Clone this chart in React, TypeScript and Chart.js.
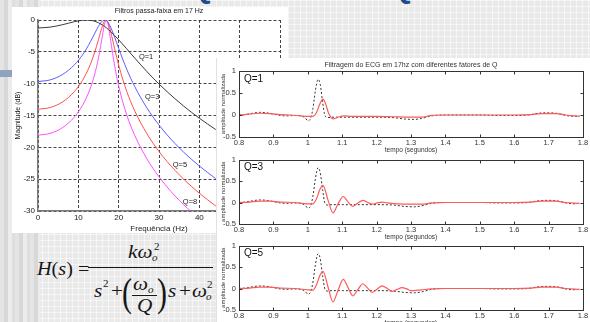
import React, { useEffect, useRef } from "react";
import { Chart, registerables } from "chart.js";

Chart.register(...registerables);

const SANS = '"Liberation Sans", Arial, Helvetica, sans-serif';
const SERIF = '"Liberation Serif", "Times New Roman", serif';

// ---------------- Left chart: "Filtros passa-faixa em 17 Hz" ----------------
const freqHz = [0, 3, 6, 9, 11, 12, 13, 14, 15, 16, 16.5, 17, 17.5, 18, 19, 20, 22, 24, 27, 30, 34, 38, 42, 46, 50, 55, 60];
const magQ1 = [-1.25, -1.12, -0.75, -0.27, -0.04, 0, -0.04, -0.18, -0.43, -0.79, -1.01, -1.25, -1.52, -1.8, -2.43, -3.1, -4.53, -5.99, -8.1, -10.05, -12.39, -14.47, -16.32, -18.0, -19.52, -21.25, -22.82];
const magQ3 = [-9.66, -9.41, -8.59, -7.06, -5.51, -4.54, -3.42, -2.19, -0.99, -0.14, 0, -0.12, -0.5, -1.1, -2.69, -4.45, -7.74, -10.48, -13.81, -16.49, -19.42, -21.85, -23.93, -25.77, -27.41, -29.25, -30.89];
const magQ5 = [-14.02, -13.75, -12.9, -11.26, -9.52, -8.36, -6.94, -5.19, -3.06, -0.88, -0.16, -0.04, -0.65, -1.77, -4.52, -7.1, -11.2, -14.3, -17.86, -20.65, -23.64, -26.11, -28.22, -30.07, -31.72, -33.57, -35.22];
const magQ8 = [-18.08, -17.81, -16.93, -15.26, -13.45, -12.22, -10.67, -8.65, -5.95, -2.37, -0.65, -0.02, -1.12, -3.16, -7.19, -10.36, -14.9, -18.15, -21.8, -24.63, -27.65, -30.13, -32.25];
const freqTicks = [0, 10, 20, 30, 40, 50, 60];
const magTicks = [0, -5, -10, -15, -20, -25, -30];
const qCurveLabels = ["Q=1", "Q=3", "Q=5", "Q=8"];
const qLabelHz = [26.8, 28.3, 35.2, 37.7];
const qLabelDb = [-5.8, -12.1, -22.8, -28.6];

// ---------------- ECG panels ----------------
const ecgTime = [0.8, 0.82, 0.84, 0.86, 0.88, 0.9, 0.92, 0.94, 0.96, 0.98, 0.993, 1.0, 1.008, 1.015, 1.022, 1.03, 1.036, 1.043, 1.05, 1.058, 1.07, 1.1, 1.15, 1.2, 1.25, 1.28, 1.31, 1.33, 1.36, 1.4, 1.45, 1.5, 1.55, 1.6, 1.64, 1.67, 1.7, 1.73, 1.75, 1.77, 1.79];
const ecgRaw = [0.0, 0.01, 0.04, 0.06, 0.05, 0.02, -0.01, -0.02, -0.01, -0.02, -0.07, -0.13, -0.08, 0.15, 0.55, 0.81, 0.7, 0.3, -0.02, -0.06, -0.05, -0.05, -0.05, -0.05, -0.06, -0.09, -0.1, -0.08, -0.02, 0.0, 0.0, 0.0, -0.01, -0.01, 0.0, 0.04, 0.05, 0.03, -0.01, -0.03, -0.02];

const q1Time = [0.8, 0.83, 0.86, 0.89, 0.92, 0.95, 0.98, 1.0, 1.015, 1.025, 1.035, 1.044, 1.052, 1.06, 1.073, 1.088, 1.103, 1.13, 1.2, 1.25, 1.3, 1.33, 1.36, 1.4, 1.5, 1.6, 1.65, 1.68, 1.72, 1.75, 1.79];
const q1Filt = [0.0, 0.02, 0.04, 0.03, 0.01, 0.0, -0.02, -0.03, -0.03, 0.05, 0.25, 0.36, 0.25, 0.05, -0.09, -0.05, -0.02, -0.03, -0.03, -0.04, -0.05, -0.05, -0.01, 0.0, 0.0, 0.0, 0.01, 0.03, 0.03, 0.0, -0.03];

const q3Time = [0.8, 0.83, 0.86, 0.89, 0.92, 0.96, 1.0, 1.015, 1.025, 1.035, 1.044, 1.059, 1.073, 1.088, 1.103, 1.117, 1.131, 1.146, 1.16, 1.174, 1.187, 1.202, 1.216, 1.231, 1.26, 1.3, 1.33, 1.36, 1.4, 1.5, 1.6, 1.65, 1.68, 1.72, 1.75, 1.79];
const q3Filt = [0.0, 0.01, 0.03, 0.03, 0.01, 0.0, -0.03, -0.03, 0.08, 0.3, 0.4, 0.05, -0.24, -0.03, 0.14, 0.01, -0.09, -0.01, 0.05, 0.0, -0.04, -0.01, 0.01, -0.01, -0.03, -0.04, -0.04, -0.01, 0.0, 0.0, 0.0, 0.01, 0.03, 0.03, 0.0, -0.02];

const q5Time = [0.8, 0.83, 0.86, 0.89, 0.92, 0.96, 1.0, 1.015, 1.025, 1.035, 1.044, 1.059, 1.073, 1.088, 1.103, 1.117, 1.131, 1.146, 1.16, 1.174, 1.187, 1.202, 1.216, 1.231, 1.245, 1.26, 1.274, 1.288, 1.3, 1.33, 1.36, 1.4, 1.5, 1.6, 1.65, 1.68, 1.72, 1.75, 1.79];
const q5Filt = [0.0, 0.01, 0.03, 0.03, 0.01, 0.0, -0.03, -0.04, 0.08, 0.3, 0.4, 0.03, -0.31, -0.04, 0.21, 0.02, -0.17, -0.02, 0.11, 0.01, -0.09, -0.01, 0.06, 0.0, -0.07, -0.02, 0.02, -0.01, -0.05, -0.03, -0.01, 0.0, 0.0, 0.0, 0.01, 0.03, 0.03, 0.0, -0.02];

const ecgTimeTicks = [0.8, 0.9, 1.0, 1.1, 1.2, 1.3, 1.4, 1.5, 1.6, 1.7, 1.8];
const ecgAmpTicks = [-0.5, 0, 0.5, 1];
const ecgPanelLabels = ["Q=1", "Q=3", "Q=5"];

const zip = (xs: number[], ys: number[]) => {
  const n = Math.min(xs.length, ys.length);
  const out: { x: number; y: number }[] = [];
  for (let i = 0; i < n; i++) out.push({ x: xs[i], y: ys[i] });
  return out;
};

const fixedTicks = (vals: number[]) => (scale: any) => {
  scale.ticks = vals.map((v) => ({ value: v }));
};

// ---------- left chart config ----------
function makeLeftConfig(): any {
  const line = (vals: number[], color: string) => ({
    data: zip(freqHz, vals),
    borderColor: color,
    borderWidth: 1,
    pointRadius: 0,
    fill: false,
    cubicInterpolationMode: "monotone",
  });
  const textPlugin = {
    id: "leftText",
    afterDraw(chart: any) {
      const { ctx, chartArea: a, scales } = chart;
      ctx.save();
      ctx.fillStyle = "#1a1a1a";
      ctx.textAlign = "center";
      ctx.textBaseline = "middle";
      ctx.font = `7px ${SANS}`;
      ctx.fillText("Filtros passa-faixa em 17 Hz", (a.left + a.right) / 2, a.top - 9);
      ctx.font = `8px ${SANS}`;
      ctx.fillText("Frequência (Hz)", (a.left + a.right) / 2, a.bottom + 18);
      ctx.font = `7.5px ${SANS}`;
      qCurveLabels.forEach((t, i) => {
        ctx.fillText(t, scales.x.getPixelForValue(qLabelHz[i]), scales.y.getPixelForValue(qLabelDb[i]));
      });
      ctx.translate(6, (a.top + a.bottom) / 2);
      ctx.rotate(-Math.PI / 2);
      ctx.font = `7px ${SANS}`;
      ctx.fillText("Magnitude (dB)", 0, 0);
      ctx.restore();
    },
  };
  const tickFont = { family: SANS, size: 8 };
  return {
    type: "line",
    data: {
      datasets: [
        line(magQ1, "#3a3a3a"),
        line(magQ3, "#5c5cff"),
        line(magQ5, "#ff4f4f"),
        line(magQ8, "#ff4fff"),
      ],
    },
    options: {
      responsive: false,
      animation: false,
      events: [],
      layout: { padding: { top: 13, right: 8, left: 0, bottom: 0 } },
      plugins: { legend: { display: false }, tooltip: { enabled: false }, title: { display: false } },
      scales: {
        x: {
          type: "linear",
          min: 0,
          max: 60,
          afterBuildTicks: fixedTicks(freqTicks),
          ticks: { font: tickFont, color: "#222", padding: 2, maxRotation: 0, autoSkip: false, callback: (v: any) => String(v) },
          grid: { color: "#444", lineWidth: 1, drawTicks: false },
          border: { display: true, color: "#7a7a7a", width: 1.5, dash: [3, 2] },
          afterFit: (s: any) => {
            s.height = 22;
          },
        },
        y: {
          type: "linear",
          min: -30,
          max: 0,
          afterBuildTicks: fixedTicks(magTicks),
          ticks: { font: tickFont, color: "#222", padding: 3, autoSkip: false, callback: (v: any) => String(v) },
          grid: { color: "#444", lineWidth: 1, drawTicks: false },
          border: { display: true, color: "#7a7a7a", width: 1.5, dash: [3, 2] },
          afterFit: (s: any) => {
            s.width = 26;
          },
        },
      },
    },
    plugins: [textPlugin],
  };
}

// ---------- ECG subplot config ----------
function makeEcgConfig(idx: number, padTop: number): any {
  const filtered = [zip(q1Time, q1Filt), zip(q3Time, q3Filt), zip(q5Time, q5Filt)][idx];
  const decor = {
    id: "ecgDecor",
    afterDraw(chart: any) {
      const { ctx, chartArea: a, scales } = chart;
      const xs = scales.x;
      const ys = scales.y;
      const L = Math.round(a.left) + 0.5;
      const R = Math.round(a.right) + 0.5;
      const T = Math.round(a.top) + 0.5;
      const B = Math.round(a.bottom) + 0.5;
      ctx.save();
      ctx.setLineDash([]);
      ctx.strokeStyle = "#333";
      ctx.lineWidth = 1;
      ctx.strokeRect(L, T, R - L, B - T);
      ctx.beginPath();
      xs.ticks.forEach((t: any) => {
        const p = Math.round(xs.getPixelForValue(t.value)) + 0.5;
        ctx.moveTo(p, B);
        ctx.lineTo(p, B - 3);
        ctx.moveTo(p, T);
        ctx.lineTo(p, T + 3);
      });
      ys.ticks.forEach((t: any) => {
        const p = Math.round(ys.getPixelForValue(t.value)) + 0.5;
        ctx.moveTo(L, p);
        ctx.lineTo(L + 3, p);
        ctx.moveTo(R, p);
        ctx.lineTo(R - 3, p);
      });
      ctx.stroke();
      ctx.fillStyle = "#111";
      ctx.textAlign = "left";
      ctx.textBaseline = "middle";
      ctx.font = `10px ${SANS}`;
      ctx.fillText(ecgPanelLabels[idx], a.left + 5, a.top + 8);
      ctx.fillStyle = "#333";
      ctx.textAlign = "center";
      ctx.font = `6.5px ${SANS}`;
      ctx.fillText("tempo (segundos)", (a.left + a.right) / 2, a.bottom + 13);
      if (idx === 0) {
        ctx.font = `7px ${SANS}`;
        ctx.fillText("Filtragem do ECG em 17hz com diferentes fatores de Q", (a.left + a.right) / 2, a.top - 6);
      }
      ctx.translate(7, (a.top + a.bottom) / 2);
      ctx.rotate(-Math.PI / 2);
      ctx.font = `6px ${SANS}`;
      ctx.fillText("amplitude normalizada", 0, 0);
      ctx.restore();
    },
  };
  const tickFont = { family: SANS, size: 7.5 };
  return {
    type: "line",
    data: {
      datasets: [
        {
          data: filtered,
          borderColor: "#ff5a5a",
          borderWidth: 1.2,
          pointRadius: 0,
          fill: false,
          cubicInterpolationMode: "monotone",
        },
        {
          data: zip(ecgTime, ecgRaw),
          borderColor: "#333",
          borderWidth: 1,
          borderDash: [2, 2],
          pointRadius: 0,
          fill: false,
          cubicInterpolationMode: "monotone",
        },
      ],
    },
    options: {
      responsive: false,
      animation: false,
      events: [],
      layout: { padding: { top: padTop, right: 7, left: 0, bottom: 0 } },
      plugins: { legend: { display: false }, tooltip: { enabled: false }, title: { display: false } },
      scales: {
        x: {
          type: "linear",
          min: 0.8,
          max: 1.8,
          afterBuildTicks: fixedTicks(ecgTimeTicks),
          ticks: {
            font: tickFont,
            color: "#333",
            padding: 1,
            maxRotation: 0,
            autoSkip: false,
            callback: (v: any) => String(Math.round(Number(v) * 10) / 10),
          },
          grid: { display: false, drawTicks: false },
          border: { display: false },
          afterFit: (s: any) => {
            s.height = 17;
          },
        },
        y: {
          type: "linear",
          min: -0.5,
          max: 1,
          afterBuildTicks: fixedTicks(ecgAmpTicks),
          ticks: {
            font: tickFont,
            color: "#333",
            padding: 3,
            autoSkip: false,
            callback: (v: any) => String(Math.round(Number(v) * 10) / 10),
          },
          grid: { display: false, drawTicks: false },
          border: { display: false },
          afterFit: (s: any) => {
            s.width = 23;
          },
        },
      },
    },
    plugins: [decor],
  };
}

function ChartCanvas({ width, height, left, top, make }: any) {
  const ref = useRef<HTMLCanvasElement>(null);
  useEffect(() => {
    const chart = new Chart(ref.current as HTMLCanvasElement, make());
    return () => chart.destroy();
  }, []);
  return (
    <canvas
      ref={ref}
      width={width}
      height={height}
      style={{ position: "absolute", left, top, width, height, display: "block" }}
    />
  );
}

function T({ x, base, size, italic, sx = 1.18, children }: any) {
  return (
    <span
      style={{
        position: "absolute",
        left: x,
        top: base - 0.84 * size,
        fontSize: size,
        lineHeight: `${size}px`,
        fontStyle: italic ? "italic" : "normal",
        whiteSpace: "nowrap",
        transform: `scaleX(${sx})`,
        transformOrigin: "left center",
      }}
    >
      {children}
    </span>
  );
}

function Formula() {
  return (
    <div style={{ position: "absolute", left: 0, top: 0, fontFamily: SERIF, color: "#161616" }}>
      <T x={37} base={275} size={18} sx={1.12}>
        <i>H</i>(<i>s</i>) =
      </T>
      {/* numerator */}
      <T x={128} base={258} size={18} italic>
        kω
      </T>
      <T x={152} base={261} size={11} italic sx={1}>
        o
      </T>
      <T x={154} base={250} size={11} sx={1}>
        2
      </T>
      <div style={{ position: "absolute", left: 88, top: 267, width: 125, height: 1.3, background: "#161616" }} />
      {/* denominator */}
      <T x={94} base={297} size={18} italic>
        s
      </T>
      <T x={103} base={287} size={11} sx={1}>
        2
      </T>
      <T x={111} base={297} size={18}>
        +
      </T>
      <T x={122} base={307} size={40} sx={0.75}>
        (
      </T>
      <T x={133} base={290} size={18} italic>
        ω
      </T>
      <T x={148} base={293} size={11} italic sx={1}>
        o
      </T>
      <div style={{ position: "absolute", left: 132, top: 294.5, width: 25, height: 1, background: "#161616" }} />
      <T x={137} base={312} size={18} italic>
        Q
      </T>
      <T x={157} base={307} size={40} sx={0.75}>
        )
      </T>
      <T x={168} base={297} size={18} italic>
        s
      </T>
      <T x={179} base={297} size={18}>
        +
      </T>
      <T x={192} base={297} size={18} italic>
        ω
      </T>
      <T x={206} base={300} size={11} italic sx={1}>
        o
      </T>
      <T x={207} base={288} size={11} sx={1}>
        2
      </T>
    </div>
  );
}

const ecgPlotTops = [71, 158, 244];
const ecgPlotHeight = 66;
const ECG_LEFT = 216;
const ECG_TOP = 58;

export default function App() {
  return (
    <div
      style={{
        position: "fixed",
        left: 0,
        top: 0,
        width: 590,
        height: 322,
        overflow: "hidden",
        backgroundColor: "#e9e9e9",
        backgroundImage:
          "repeating-linear-gradient(90deg, rgba(255,255,255,0.55) 0px, rgba(255,255,255,0.55) 1px, transparent 1px, transparent 6px), repeating-linear-gradient(180deg, rgba(255,255,255,0.55) 0px, rgba(255,255,255,0.55) 1px, transparent 1px, transparent 6px)",
      }}
    >
      <div
        style={{
          position: "absolute",
          left: 0,
          top: 0,
          width: 40,
          height: 322,
          backgroundImage:
            "repeating-linear-gradient(90deg, #e4e4e4 0px, #e4e4e4 4px, #d8d8d8 4px, #d8d8d8 8px, #ececec 8px, #ececec 12px, #dedede 12px, #dedede 15px)",
        }}
      />
      <div style={{ position: "absolute", left: 0, top: 70, width: 12, height: 7, background: "#8ea3be" }} />
      <span
        style={{
          position: "absolute",
          left: 190,
          top: -27,
          fontFamily: SANS,
          fontWeight: "bold",
          fontSize: 30,
          lineHeight: "30px",
          color: "#1f4c8a",
        }}
      >
        Q
      </span>
      <span
        style={{
          position: "absolute",
          left: 390,
          top: -27,
          fontFamily: SANS,
          fontWeight: "bold",
          fontSize: 30,
          lineHeight: "30px",
          color: "#1f4c8a",
        }}
      >
        Q
      </span>
      <div style={{ position: "absolute", left: 12, top: 7, width: 276, height: 226, background: "#fff" }}>
        <ChartCanvas width={276} height={226} left={0} top={0} make={makeLeftConfig} />
      </div>
      <Formula />
      <div
        style={{
          position: "absolute",
          left: ECG_LEFT,
          top: ECG_TOP,
          width: 590 - ECG_LEFT,
          height: 322 - ECG_TOP,
          background: "#fff",
          overflow: "hidden",
          borderLeft: "1px solid #e2e2e2",
          boxSizing: "border-box",
        }}
      >
        {ecgPlotTops.map((pt, i) => {
          const padTop = i === 0 ? 13 : 6;
          return (
            <ChartCanvas
              key={i}
              width={590 - ECG_LEFT}
              height={padTop + ecgPlotHeight + 17}
              left={-1}
              top={pt - padTop - ECG_TOP}
              make={() => makeEcgConfig(i, padTop)}
            />
          );
        })}
      </div>
    </div>
  );
}
